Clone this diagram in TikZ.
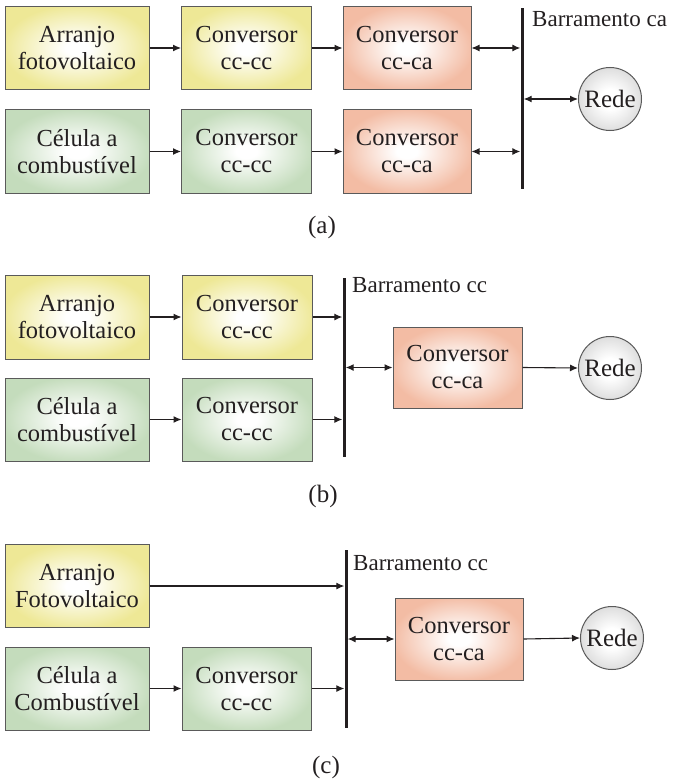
\documentclass[tikz,border=0pt]{standalone}
\usepackage{fontspec}
\setmainfont{Liberation Serif}
\usetikzlibrary{arrows.meta}

% fill and line colours
\definecolor{pvEdge}{RGB}{238,232,150}
\definecolor{fcEdge}{RGB}{196,220,188}
\definecolor{invEdge}{RGB}{243,188,164}
\definecolor{gridEdge}{RGB}{222,222,222}
\definecolor{frameGray}{RGB}{90,90,90}
\definecolor{inkDark}{RGB}{35,31,32}

% radial fills: pale centre, coloured rim
\pgfdeclareradialshading{pvshade}{\pgfpoint{0bp}{0bp}}{color(0bp)=(white); color(4bp)=(white); color(26bp)=(pvEdge); color(50bp)=(pvEdge)}
\pgfdeclareradialshading{fcshade}{\pgfpoint{0bp}{0bp}}{color(0bp)=(white); color(4bp)=(white); color(26bp)=(fcEdge); color(50bp)=(fcEdge)}
\pgfdeclareradialshading{invshade}{\pgfpoint{0bp}{0bp}}{color(0bp)=(white); color(4bp)=(white); color(26bp)=(invEdge); color(50bp)=(invEdge)}
\pgfdeclareradialshading{gridshade}{\pgfpoint{0bp}{0bp}}{color(0bp)=(white); color(8bp)=(white); color(25bp)=(gridEdge); color(50bp)=(gridEdge)}

\tikzset{
  blk/.style={draw=frameGray, line width=1pt, shade, align=center, inner sep=0pt,
              text=inkDark, font=\fontsize{24.5}{27}\selectfont, minimum height=83pt},
  pvbox/.style={blk, shading=pvshade},
  fcbox/.style={blk, shading=fcshade},
  invbox/.style={blk, shading=invshade},
  rede/.style={circle, draw=frameGray, line width=1pt, shade, shading=gridshade,
               minimum size=63pt, inner sep=0pt, text=inkDark, font=\fontsize{25}{27}\selectfont},
  bus/.style={fill=inkDark, draw=none, inner sep=0pt, minimum width=3pt},
  buslabel/.style={anchor=base west, inner sep=0pt, text=inkDark, font=\fontsize{23}{25}\selectfont},
  caption/.style={text=inkDark, inner sep=0pt, font=\fontsize{25}{27}\selectfont},
  arr/.style={draw=inkDark, line width=1.1pt, -{Latex[length=8pt,width=7pt]}},
  darr/.style={draw=inkDark, line width=1.1pt, {Latex[length=8pt,width=7pt]}-{Latex[length=8pt,width=7pt]}}
}

\begin{document}
\begin{tikzpicture}[x=1pt, y=-1pt]
\useasboundingbox (0,0) rectangle (678,781);

% ---------- (a) ca bus ----------
\node[pvbox, minimum width=144pt] (a1) at (77,48) {Arranjo\\fotovoltaico};
\node[pvbox, minimum width=130pt] (a2) at (246.5,48) {Conversor\\cc-cc};
\node[invbox, minimum width=128pt] (a3) at (407,48) {Conversor\\cc-ca};
\node[fcbox, minimum width=144pt] (a4) at (77,151.5) {Célula a\\combustível};
\node[fcbox, minimum width=130pt] (a5) at (246.5,151.5) {Conversor\\cc-cc};
\node[invbox, minimum width=128pt] (a6) at (407,151.5) {Conversor\\cc-ca};
\node[bus, minimum height=181pt] (busA) at (522,98.5) {};
\node[buslabel] (labA) at (532,27) {Barramento ca};
\node[rede] (redeA) at (610,99) {Rede};
\node[caption] (capA) at (322,227) {(a)};

\draw[arr] (a1.east) -- (a2.west);
\draw[arr] (a2.east) -- (a3.west);
\draw[arr] (a4.east) -- (a5.west);
\draw[arr] (a5.east) -- (a6.west);
\draw[darr] (a3.east) -- (a3.east -| busA.west);
\draw[darr] (a6.east) -- (a6.east -| busA.west);
\draw[darr] (busA.east |- redeA.west) -- (redeA.west);

% ---------- (b) cc bus, two converters ----------
\node[pvbox, minimum width=144pt, minimum height=84pt] (b1) at (77,317) {Arranjo\\fotovoltaico};
\node[pvbox, minimum width=130pt, minimum height=84pt] (b2) at (247,317) {Conversor\\cc-cc};
\node[fcbox, minimum width=144pt] (b4) at (77,419.5) {Célula a\\combustível};
\node[fcbox, minimum width=130pt] (b5) at (247,419.5) {Conversor\\cc-cc};
\node[bus, minimum height=179pt] (busB) at (344,367.5) {};
\node[buslabel] (labB) at (352,292) {Barramento cc};
\node[invbox, minimum width=129pt, minimum height=81pt] (b3) at (457.5,367.5) {Conversor\\cc-ca};
\node[rede] (redeB) at (610,368) {Rede};
\node[caption] (capB) at (323,496) {(b)};

\draw[arr] (b1.east) -- (b2.west);
\draw[arr] (b4.east) -- (b5.west);
\draw[arr] (b2.east) -- (b2.east -| busB.west);
\draw[arr] (b5.east) -- (b5.east -| busB.west);
\draw[darr] (busB.east |- b3.west) -- (b3.west);
\draw[arr] (b3.east) -- (redeB.west);

% ---------- (c) cc bus, PV direct ----------
\node[pvbox, minimum width=144pt] (c1) at (77,586) {Arranjo\\Fotovoltaico};
\node[fcbox, minimum width=144pt] (c4) at (77,688.5) {Célula a\\Combustível};
\node[fcbox, minimum width=129pt] (c5) at (246.5,688.5) {Conversor\\cc-cc};
\node[bus, minimum height=178pt] (busC) at (346,639) {};
\node[buslabel] (labC) at (353,570) {Barramento cc};
\node[invbox, minimum width=128pt, minimum height=82pt] (c3) at (459,639) {Conversor\\cc-ca};
\node[rede] (redeC) at (612,638) {Rede};
\node[caption] (capC) at (326,767) {(c)};

\draw[arr] (c1.east) -- (c1.east -| busC.west);
\draw[arr] (c4.east) -- (c5.west);
\draw[arr] (c5.east) -- (c5.east -| busC.west);
\draw[darr] (busC.east |- c3.west) -- (c3.west);
\draw[arr] (c3.east) -- (redeC.west);
\end{tikzpicture}
\end{document}
